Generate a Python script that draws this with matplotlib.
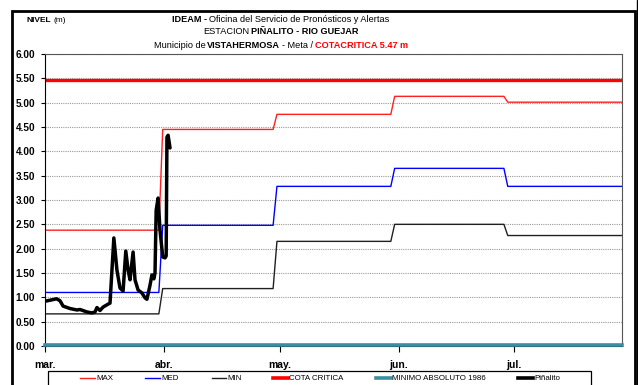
import matplotlib
matplotlib.use("Agg")
import matplotlib.pyplot as plt
from matplotlib.lines import Line2D
from matplotlib.patches import Rectangle
from matplotlib.transforms import IdentityTransform

plt.rcParams["font.family"] = ["Liberation Sans Narrow", "Liberation Sans", "DejaVu Sans"]

# month ticks (days counted from 1 March)
month_labels = ["mar.", "abr.", "may.", "jun.", "jul."]
month_days = [0, 31, 61, 92, 122]
x_end = 150

# monthly reference levels (m) and the day where each new level is reached
step_days = [0, 30.6, 60.3, 90.9, 120.3]
max_levels = [2.38, 4.45, 4.76, 5.13, 5.01]
med_levels = [1.10, 2.48, 3.28, 3.65, 3.28]
min_levels = [0.66, 1.18, 2.15, 2.50, 2.27]
cota_critica = 5.47
minimo_1986 = 0.03

# Piñalito readings
pin_days = [0, 1.3, 3.0, 3.9, 4.7, 6.5, 8.3, 9.1, 10.9, 12.2, 13.0, 13.5, 14.3,
            15.1, 16.4, 16.9, 17.9, 18.7, 19.5, 20.3, 21.0, 21.6, 22.1, 22.9,
            23.4, 24.2, 25.2, 26.0, 26.5, 27.3, 27.8, 28.3, 28.6, 28.9, 29.4,
            29.9, 30.6, 31.2, 31.5, 31.7, 32.0, 32.5]
pin_vals = [0.92, 0.94, 0.97, 0.93, 0.82, 0.77, 0.74, 0.75, 0.70, 0.68, 0.70,
            0.79, 0.73, 0.80, 0.86, 0.88, 2.22, 1.56, 1.19, 1.13, 1.95, 1.56,
            1.36, 1.93, 1.36, 1.15, 1.09, 0.99, 0.96, 1.25, 1.46, 1.38, 1.50,
            2.79, 3.04, 2.38, 1.83, 1.81, 1.85, 4.29, 4.33, 4.07]


def step_line(days, levels, end):
    xs, ys = [], []
    for i, lv in enumerate(levels):
        xs.append(days[i])
        ys.append(lv)
        nxt = days[i + 1] - 1 if i + 1 < len(days) else end
        xs.append(nxt)
        ys.append(lv)
    return xs, ys


W, H = 638, 385
fig = plt.figure(figsize=(W / 100, H / 100), dpi=100)


def fx(px):
    return px / W


def fy(py):
    return 1 - py / H


ax = fig.add_axes([fx(45), fy(346), fx(622) - fx(45), fy(54) - fy(346)])

ax.yaxis.grid(True, color="#9a9a9a", linestyle=(0, (1, 1)), linewidth=0.8)
ax.set_axisbelow(True)

xs, ys = step_line(step_days, max_levels, x_end)
ax.plot(xs, ys, color="#ff2020", linewidth=1.0)
xs, ys = step_line(step_days, med_levels, x_end)
ax.plot(xs, ys, color="#0000ff", linewidth=1.0)
xs, ys = step_line(step_days, min_levels, x_end)
ax.plot(xs, ys, color="#202020", linewidth=1.0)
ax.axhline(cota_critica, color="#ff0000", linewidth=2.4)
ax.axhline(minimo_1986, color="#3a8fa5", linewidth=2.6, clip_on=False, zorder=5)
ax.plot(pin_days, pin_vals, color="black", linewidth=2.5,
        solid_joinstyle="round", solid_capstyle="round")

ax.set_xlim(0, x_end)
ax.set_ylim(0, 6)
ax.set_yticks([i * 0.5 for i in range(13)])
ax.set_yticklabels([f"{i * 0.5:.2f}" for i in range(13)],
                   fontsize=7.2, fontweight="bold")
ax.set_xticks(month_days)
ax.set_xticklabels(month_labels, fontsize=7.5, fontweight="bold")
ax.tick_params(axis="y", length=3, width=0.8, pad=4)
ax.tick_params(axis="x", length=4, width=0.8, pad=6)
for side in ["top", "right"]:
    ax.spines[side].set_color("#555555")
    ax.spines[side].set_linewidth(0.8)
ax.spines["left"].set_linewidth(0.8)
ax.spines["bottom"].set_linewidth(0.8)

renderer = fig.canvas.get_renderer()
ident = IdentityTransform()


def rich_line(x_center, y_px, parts, size=6.6, gap=2.0):
    texts = []
    widths = []
    for s, bold, color in parts:
        t = fig.text(0, 0, s, fontsize=size, color=color,
                     fontweight="bold" if bold else "normal",
                     ha="left", va="center", transform=ident)
        texts.append(t)
        widths.append(t.get_window_extent(renderer).width)
    total = sum(widths) + gap * (len(parts) - 1)
    x = x_center - total / 2
    for t, w in zip(texts, widths):
        t.set_position((x, H - y_px))
        x += w + gap


rich_line(281, 20, [("IDEAM -", True, "black"),
                    ("Oficina del Servicio de Pronósticos y Alertas", False, "black")])
rich_line(281, 32, [("ESTACION", False, "black"),
                    ("PIÑALITO - RIO GUEJAR", True, "black")], gap=1.0)
rich_line(281, 45, [("Municipio de", False, "black"),
                    ("VISTAHERMOSA", True, "black"),
                    ("- Meta /", False, "black"),
                    ("COTACRITICA 5.47 m", True, "#ff0000")])
rich_line(46, 20, [("NIVEL", True, "black"), ("(m)", False, "black")], size=6.0)

# legend
fig.patches.append(Rectangle((fx(48), fy(400)), fx(591) - fx(48), fy(371) - fy(400),
                             transform=fig.transFigure, fill=False,
                             edgecolor="black", linewidth=0.9))
legend_items = [
    ("MAX", "#ff2020", 1.0, 80, 95),
    ("MED", "#0000ff", 1.0, 145, 160),
    ("MIN", "#202020", 1.0, 212, 226),
    ("COTA CRITICA", "#ff0000", 2.6, 273, 288),
    ("MINIMO ABSOLUTO 1986", "#3a8fa5", 2.6, 376, 391),
    ("Piñalito", "black", 2.6, 518, 533),
]
for label, color, lw, x0, x1 in legend_items:
    fig.lines.append(Line2D([fx(x0), fx(x1)], [fy(378), fy(378)],
                            transform=fig.transFigure, color=color, linewidth=lw))
    fig.text(fx(x1 + 1), fy(378), label, fontsize=5.7, ha="left", va="center")

# chart frame
fig.patches.append(Rectangle((fx(11.5), fy(420)), fx(634.5) - fx(11.5), fy(10.5) - fy(420),
                             transform=fig.transFigure, fill=False,
                             edgecolor="black", linewidth=2.0))
fig.patches.append(Rectangle((fx(636.5), 0), fx(638) - fx(636.5), 1,
                             transform=fig.transFigure, color="black"))

fig.savefig("out.png", dpi=100)
